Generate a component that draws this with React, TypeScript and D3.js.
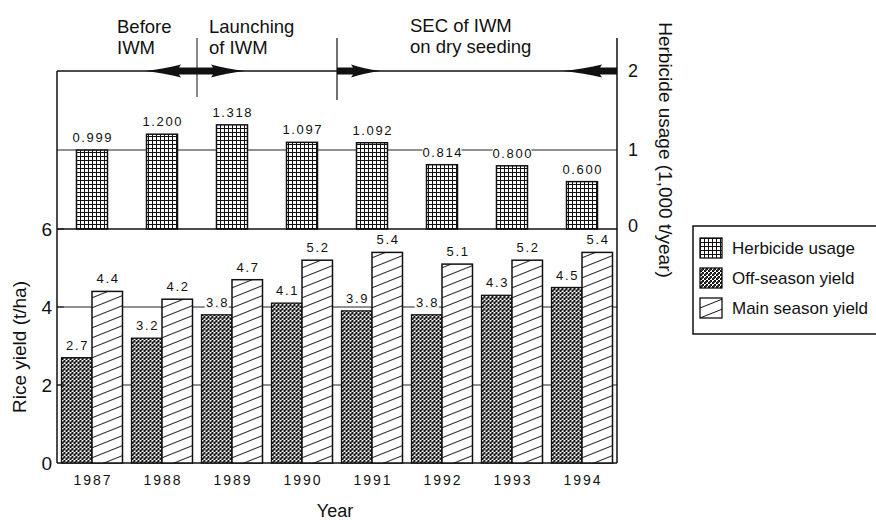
import React from 'react';
import * as d3 from 'd3';

const years = ['1987', '1988', '1989', '1990', '1991', '1992', '1993', '1994'];
const herbicide = [0.999, 1.2, 1.318, 1.097, 1.092, 0.814, 0.8, 0.6];
const herbicideLabels = ['0.999', '1.200', '1.318', '1.097', '1.092', '0.814', '0.800', '0.600'];
const offSeason = [2.7, 3.2, 3.8, 4.1, 3.9, 3.8, 4.3, 4.5];
const mainSeason = [4.4, 4.2, 4.7, 5.2, 5.4, 5.1, 5.2, 5.4];
const yieldTicks = [0, 2, 4, 6];
const herbTicks = [0, 1, 2];
const legendLabels = ['Herbicide usage', 'Off-season yield', 'Main season yield'];
const phaseBefore = ['Before', 'IWM'];
const phaseLaunch = ['Launching', 'of IWM'];
const phaseSec = ['SEC of IWM', 'on dry seeding'];

const FONT = '"Liberation Sans", Arial, Helvetica, sans-serif';
const L = 57, R = 617, TOP = 71, MID = 229, BOT = 463;

function arrowPath(tip: number, base: number, shaftEnd: number, y: number, hh = 6.5, sh = 3.5) {
  const dir = Math.sign(base - tip);
  const mid = tip + (base - tip) * 0.55;
  return [
    `M${tip},${y}`,
    `Q${mid},${y - hh * 0.35} ${base},${y - hh}`,
    `L${base - dir * 2},${y - sh}`,
    `L${shaftEnd},${y - sh}`,
    `L${shaftEnd},${y + sh}`,
    `L${base - dir * 2},${y + sh}`,
    `L${base},${y + hh}`,
    `Q${mid},${y + hh * 0.35} ${tip},${y}`,
    'Z',
  ].join(' ');
}

export default function App() {
  const x = d3.scaleBand<string>().domain(years).range([L, R]).paddingInner(9 / 70).paddingOuter(4.5 / 70);
  const sub = d3.scaleBand<string>().domain(['off', 'main']).range([0, x.bandwidth()]);
  const yTop = d3.scaleLinear().domain([0, 2]).range([MID, TOP]);
  const yBot = d3.scaleLinear().domain([0, 6]).range([BOT, MID]);
  const step = x.step();
  const hbW = 31;
  const b1 = L + step * 2;
  const b2 = L + step * 4;

  const labelEls: any[] = [];
  const addLabel = (key: string, cx: number, yb: number, text: string) => {
    const ls = 1.6;
    const w = text.length * 7.4;
    labelEls.push(
      <g key={key}>
        <rect x={cx - w / 2 - 1} y={yb - 10} width={w + 2} height={11} fill="#fff" />
        <text x={cx + ls / 2} y={yb} textAnchor="middle" fontSize={13} letterSpacing={ls} fontFamily={FONT} fill="#111">{text}</text>
      </g>
    );
  };

  years.forEach((yr, i) => {
    const c = (x(yr) as number) + x.bandwidth() / 2;
    addLabel('h' + i, c, yTop(herbicide[i]) - 8, herbicideLabels[i]);
    addLabel('o' + i, (x(yr) as number) + (sub('off') as number) + sub.bandwidth() / 2, yBot(offSeason[i]) - 8, offSeason[i].toFixed(1));
    addLabel('m' + i, (x(yr) as number) + (sub('main') as number) + sub.bandwidth() / 2, yBot(mainSeason[i]) - 8, mainSeason[i].toFixed(1));
  });

  return (
    <svg width={876} height={520} style={{ position: 'absolute', left: 0, top: 0, background: '#fff' }} fontFamily={FONT}>
      <defs>
        <pattern id="pHerb" patternUnits="userSpaceOnUse" width={4} height={4}>
          <rect width={4} height={4} fill="#fff" />
          <rect x={0} y={0} width={1} height={4} fill="#111" />
          <rect x={0} y={0} width={4} height={1} fill="#111" />
        </pattern>
        <pattern id="pOff" patternUnits="userSpaceOnUse" width={4} height={4}>
          <rect width={4} height={4} fill="#111" />
          <rect x={0} y={0} width={2} height={2} fill="#fff" />
          <rect x={2} y={2} width={2} height={2} fill="#fff" />
          <rect x={1} y={1} width={2} height={2} fill="#333" />
        </pattern>
        <pattern id="pMain" patternUnits="userSpaceOnUse" width={25} height={10}>
          <rect width={25} height={10} fill="#fff" />
          <line x1={-2.5} y1={11} x2={27.5} y2={-1} stroke="#111" strokeWidth={1} />
          <line x1={-2.5} y1={1} x2={27.5} y2={-11} stroke="#111" strokeWidth={1} />
          <line x1={-2.5} y1={21} x2={27.5} y2={9} stroke="#111" strokeWidth={1} />
        </pattern>
      </defs>

      {/* phase annotations */}
      {phaseBefore.map((t, i) => (
        <text key={'pb' + i} x={117} y={33 + i * 21} fontSize={18.5} fill="#111">{t}</text>
      ))}
      {phaseLaunch.map((t, i) => (
        <text key={'pl' + i} x={209} y={33 + i * 21} fontSize={18.5} fill="#111">{t}</text>
      ))}
      {phaseSec.map((t, i) => (
        <text key={'ps' + i} x={410} y={32 + i * 21} fontSize={18.5} fill="#111">{t}</text>
      ))}
      <line x1={b1} x2={b1} y1={38} y2={97} stroke="#111" strokeWidth={1} />
      <line x1={b2} x2={b2} y1={38} y2={100} stroke="#111" strokeWidth={1.2} />

      {/* gridlines */}
      <line x1={L} x2={R} y1={yTop(1)} y2={yTop(1)} stroke="#222" strokeWidth={1} />
      {[2, 4].map(v => (
        <line key={'g' + v} x1={L} x2={R} y1={yBot(v)} y2={yBot(v)} stroke="#222" strokeWidth={1} />
      ))}

      {/* frame */}
      <line x1={L} x2={R} y1={TOP} y2={TOP} stroke="#111" strokeWidth={1.3} />
      <line x1={L} x2={R} y1={MID} y2={MID} stroke="#111" strokeWidth={1.3} />
      <line x1={L} x2={R} y1={BOT} y2={BOT} stroke="#111" strokeWidth={1.3} />
      <line x1={L} x2={L} y1={TOP} y2={BOT} stroke="#111" strokeWidth={1.5} />
      <line x1={R} x2={R} y1={38} y2={BOT} stroke="#111" strokeWidth={1.5} />

      {/* arrows */}
      <path d={arrowPath(b1 - 52, b1 - 16, b1, TOP)} fill="#111" />
      <path d={arrowPath(b1 + 48, b1 + 14, b1, TOP)} fill="#111" />
      <path d={arrowPath(b2 + 43, b2 + 14, b2, TOP)} fill="#111" />
      <path d={arrowPath(R - 54, R - 15, R, TOP)} fill="#111" />

      {/* herbicide bars */}
      {years.map((yr, i) => {
        const c = (x(yr) as number) + x.bandwidth() / 2;
        return (
          <rect key={'hb' + i} x={c - hbW / 2} y={yTop(herbicide[i])} width={hbW} height={MID - yTop(herbicide[i])}
            fill="url(#pHerb)" stroke="#111" strokeWidth={1.5} />
        );
      })}

      {/* yield bars */}
      {years.map((yr, i) => (
        <g key={'yb' + i} transform={`translate(${x(yr)},0)`}>
          <rect x={sub('off')} y={yBot(offSeason[i])} width={sub.bandwidth()} height={BOT - yBot(offSeason[i])}
            fill="url(#pOff)" stroke="#111" strokeWidth={1.3} />
          <rect x={sub('main')} y={yBot(mainSeason[i])} width={sub.bandwidth()} height={BOT - yBot(mainSeason[i])}
            fill="url(#pMain)" stroke="#111" strokeWidth={1.5} />
        </g>
      ))}

      {labelEls}

      {/* left axis */}
      {yieldTicks.map(v => (
        <g key={'lt' + v}>
          {v > 0 && <line x1={L} x2={L + 7} y1={yBot(v)} y2={yBot(v)} stroke="#111" strokeWidth={1} />}
          <text x={52} y={yBot(v)} dy="0.36em" textAnchor="end" fontSize={19} fill="#111">{v}</text>
        </g>
      ))}
      <text transform={`translate(26,347) rotate(-90)`} textAnchor="middle" fontSize={19} fill="#111">Rice yield (t/ha)</text>

      {/* right axis */}
      {herbTicks.map(v => (
        <text key={'rt' + v} x={628} y={yTop(v) - (v === 0 ? 3 : 0)} dy="0.36em" fontSize={18} fill="#111">{v}</text>
      ))}
      <text transform={`translate(659,150) rotate(90)`} textAnchor="middle" fontSize={19} fill="#111">Herbicide usage (1,000 t/year)</text>

      {/* x axis */}
      {years.map(yr => (
        <text key={'xt' + yr} x={(x(yr) as number) + x.bandwidth() / 2 + 1} y={485} textAnchor="middle" fontSize={14} letterSpacing={2} fill="#111">{yr}</text>
      ))}
      <text x={335} y={517} textAnchor="middle" fontSize={18} fill="#111">Year</text>

      {/* legend */}
      <rect x={693} y={226} width={200} height={108} fill="#fff" stroke="#111" strokeWidth={1.5} />
      {legendLabels.map((t, i) => (
        <g key={'lg' + i} transform={`translate(700,${238 + i * 30})`}>
          <rect x={0} y={0} width={22} height={20} fill={['url(#pHerb)', 'url(#pOff)', 'url(#pMain)'][i]} stroke="#111" strokeWidth={1.3} />
          <text x={32} y={15.5} fontSize={17} fill="#111">{t}</text>
        </g>
      ))}
    </svg>
  );
}
